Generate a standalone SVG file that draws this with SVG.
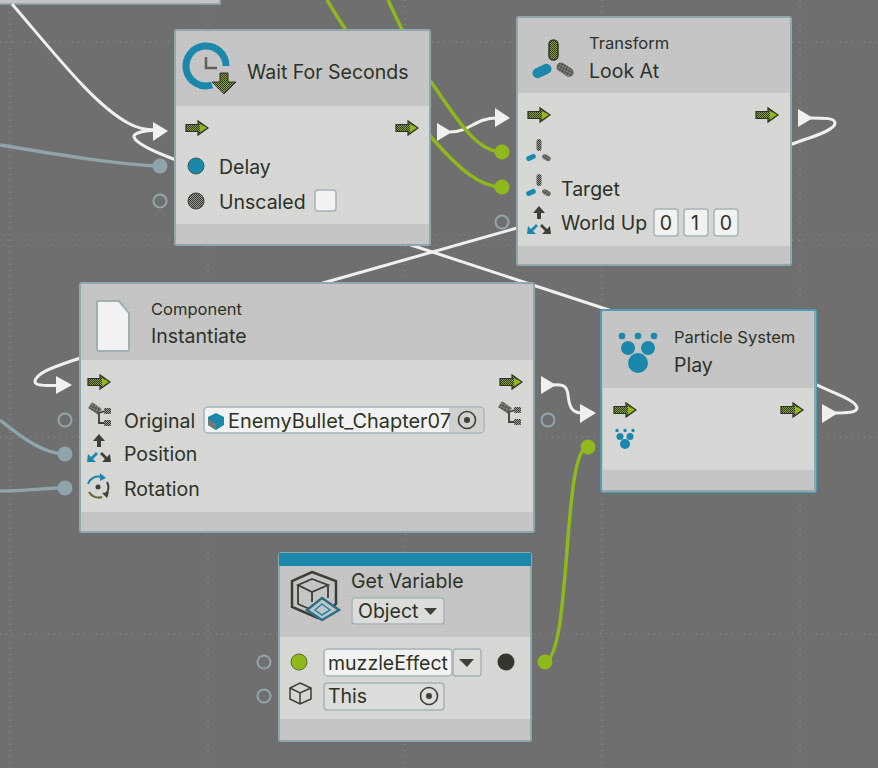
<svg xmlns="http://www.w3.org/2000/svg" xmlns:xlink="http://www.w3.org/1999/xlink" width="878" height="768" viewBox="0 0 878 768">
<style>
text{font-family:Inter,"Noto Sans",sans-serif;fill:#2c3226}
.t{font-size:19.5px}.s{font-size:16.5px}
.n{fill:#c4c4c4;stroke:#8fa7ad;stroke-width:2}
.b{fill:#d6d6d4}
.w{fill:none;stroke:#f0f0ee;stroke-width:3}
.g{fill:none;stroke:#8eb81c;stroke-width:3.5}
.u{fill:none;stroke:#8fa5ab;stroke-width:3.5}
.grid{stroke:#8c9a9b;stroke-width:1;stroke-dasharray:1 5;fill:none}
.hp{fill:none;stroke:#92a6ac;stroke-width:2}
.fp{fill:#8fa5ab}.gp{fill:#8eb81c}
.tri{fill:#f0f0ee}
.fld{fill:#f2f2f2;stroke:#a4b4b6;stroke-width:1.5}
.fldg{fill:#dcdcda;stroke:#a4b4b6;stroke-width:1.5}
.bl{fill:#1b88ab}.dk{fill:#3c4138}
</style>
<defs>
<pattern id="dots" width="4" height="4" patternUnits="userSpaceOnUse"><rect x="1" y="1" width="1" height="1" fill="#fff" opacity=".22"/></pattern>
<pattern id="chk" width="2" height="2" patternUnits="userSpaceOnUse"><rect width="2" height="2" fill="#8aa81c"/><rect width="1" height="1" fill="#2e3324"/><rect x="1" y="1" width="1" height="1" fill="#2e3324"/></pattern>
<pattern id="chk2" width="2" height="2" patternUnits="userSpaceOnUse"><rect width="2" height="2" fill="#9a9c96"/><rect width="1" height="1" fill="#33372e"/><rect x="1" y="1" width="1" height="1" fill="#33372e"/></pattern>
<g id="flow"><path d="M-11,-3.500H1V-7L11,0L1,7V3.500H-11Z" fill="url(#chk)" stroke="#2e3324" stroke-width="1.200"/><path d="M3,-4L10,0L3,4Z" fill="#94b81c"/></g>
<g id="tf3">
<rect x="-2.500" y="-14" width="5" height="12" rx="2.500" fill="url(#chk2)"/>
<rect x="-13" y="2" width="10" height="5" rx="2.500" transform="rotate(-25 -8 4.500)" class="bl"/>
<rect x="3" y="2" width="9" height="5" rx="2.500" transform="rotate(28 7 4.500)" fill="url(#chk2)"/>
</g>
<g id="axis">
<path d="M0,-16L-6,-9H-2V-3H2V-9H6Z" fill="#3c4138"/>
<path d="M-12,12L-11,4L-8,7L-3,2L-1,4L-6,9L-3,12Z" class="bl"/>
<path d="M12,12L11,4L8,7L3,2L1,4L6,9L3,12Z" fill="#3c4138"/>
</g>
<g id="tree">
<rect x="-11" y="-12" width="12" height="7" transform="rotate(35 -5 -8.500)" fill="url(#chk2)"/>
<path d="M-1,-4V6H5M-1,-4L5,-6" fill="none" stroke="#3c4138" stroke-width="1.800"/>
<rect x="4" y="-9" width="7" height="6" rx="1" fill="url(#chk2)"/><rect x="4" y="3" width="7" height="6" rx="1" fill="url(#chk2)"/>
</g>
<g id="tgt"><circle r="8.500" fill="none" stroke="#3c4138" stroke-width="1.600"/><circle r="3" fill="#3c4138"/></g>
<g id="ps">
<circle cx="-16" cy="-27" r="3.300" class="bl"/><circle cx="0" cy="-27" r="3.300" class="bl"/><circle cx="16" cy="-27" r="3.300" class="bl"/>
<circle cx="-10" cy="-15" r="7" class="bl"/><circle cx="10" cy="-15" r="7" class="bl"/><circle cy="0" r="10" class="bl"/>
</g>
</defs>
<rect width="878" height="768" fill="#6f6f6f"/>
<g id="grid" class="grid">
<path d="M0,42H878M0,240H878M0,437H878M0,634H878M10,0V768M208,0V768M405,0V768M602,0V768M800,0V768"/>
</g>
<rect id="cut-off-node" x="-4" y="-10" width="224" height="14" fill="#c4c4c4" stroke="#8fa7ad" stroke-width="1.500"/>
<g id="connectors">
<path class="w" d="M12,4C60,60 95,105 128,123C140,130 150,130 156,130C140,131 133,134 134,137C136,144 160,154 176,160"/>
<path class="w" d="M176,160L411,245L612,311"/>
<path class="w" d="M450,132C470,132 475,118 497,118"/>
<path class="w" d="M810,118C825,118 835,118 835,123C835,132 800,140 790,145L517,228L323,283L80,358C60,365 35,372 35,382C35,386 50,386 60,385"/>
<path class="w" d="M553,385C572,383 566,395 570,405C572,412 578,413 582,413"/>
<path class="w" d="M835,413C845,413 857,413 857,408C857,400 830,392 815,384"/>
<path class="g" d="M388,0C400,25 415,60 431,82C455,115 475,152 502,152"/>
<path class="g" d="M327,0C345,30 385,90 431,137C460,170 480,187 502,187"/>
<path class="g" d="M545,662C572,655 562,447 588,447"/>
<path class="u" d="M0,145C60,155 120,165 160,166"/>
<path class="u" d="M0,420C25,440 45,454 65,454"/>
<path class="u" d="M0,491C25,491 45,488 65,488"/>
<path class="tri" d="M153,122L168,131L153,141Z"/>
<path class="tri" d="M437,123L452,132L437,141Z"/>
<path class="tri" d="M495,108L510,118L495,127Z"/>
<path class="tri" d="M798,109L813,118L798,127Z"/>
<path class="tri" d="M56,376L72,385L56,394Z"/>
<path class="tri" d="M541,376L556,385L541,394Z"/>
<path class="tri" d="M580,404L596,413L580,423Z"/>
<path class="tri" d="M822,404L838,413L822,423Z"/>
<circle class="gp" cx="502" cy="152" r="7.500"/><circle class="gp" cx="502" cy="187" r="7.500"/>
<circle class="gp" cx="588" cy="447" r="7.500"/><circle class="gp" cx="545" cy="662" r="7.500"/>
<circle class="fp" cx="160" cy="166" r="7.500"/><circle class="fp" cx="65" cy="454" r="7.500"/><circle class="fp" cx="65" cy="488" r="7.500"/>
<circle class="hp" cx="160" cy="201" r="6.500"/><circle class="hp" cx="502" cy="222" r="6.500"/><circle class="hp" cx="65" cy="420" r="6.500"/>
<circle class="hp" cx="548" cy="420" r="6.500"/><circle class="hp" cx="264" cy="662" r="6.500"/><circle class="hp" cx="264" cy="696" r="6.500"/>
</g>
<g id="node-wait">
<rect class="n" x="175" y="30" width="255" height="215" rx="2"/>
<rect class="b" x="176" y="106" width="253" height="118"/>
<rect x="176" y="31" width="253" height="213" fill="url(#dots)"/>
<path d="M212,85A20,20 0 1 1 226,66" fill="none" stroke="#1b88ab" stroke-width="7"/>
<path d="M206,57V68H217" fill="none" stroke="#5f625c" stroke-width="2.500"/>
<path d="M220,73H228V82H236L224,94L212,82H220Z" fill="url(#chk)" stroke="#2e3324" stroke-width="1"/>
<text class="t" x="247" y="79">Wait For Seconds</text>
<use href="#flow" x="197" y="128"/><use href="#flow" x="407" y="128"/>
<circle cx="196" cy="166" r="8" class="bl" stroke="#3a5a66" stroke-width="1"/>
<circle cx="196" cy="201" r="8" fill="url(#chk2)" stroke="#3a3f36" stroke-width="1"/>
<text class="t" x="219" y="174">Delay</text>
<text class="t" x="219" y="209">Unscaled</text>
<rect class="fld" x="315" y="190" width="21" height="21" rx="3"/>
</g>
<g id="node-lookat">
<rect class="n" x="517" y="17" width="274" height="248" rx="2"/>
<rect class="b" x="518" y="93" width="272" height="153"/>
<rect x="518" y="18" width="272" height="246" fill="url(#dots)"/>
<rect x="549" y="40" width="9" height="20" rx="4.500" fill="url(#chk)" stroke="#2e3324" stroke-width="1.500"/>
<rect x="532" y="66" width="20" height="10" rx="5" transform="rotate(-25 542 71)" class="bl"/>
<rect x="556" y="65" width="19" height="9" rx="4.500" transform="rotate(33 565 69)" fill="url(#chk2)"/>
<text class="s" x="589" y="49">Transform</text>
<text class="t" x="589" y="78">Look At</text>
<use href="#flow" x="539" y="115"/><use href="#flow" x="767" y="115"/>
<use href="#tf3" x="539" y="153"/><use href="#tf3" x="539" y="188"/>
<use href="#axis" x="539" y="222"/>
<text class="t" x="561" y="196">Target</text>
<text class="t" x="561" y="230">World Up</text>
<rect class="fld" x="654" y="209" width="24" height="27" rx="3"/><rect class="fld" x="684" y="209" width="24" height="27" rx="3"/><rect class="fld" x="714" y="209" width="24" height="27" rx="3"/>
<text class="t" x="666" y="230" text-anchor="middle">0</text><text class="t" x="695" y="230" text-anchor="middle">1</text><text class="t" x="726" y="230" text-anchor="middle">0</text>
</g>
<g id="node-instantiate">
<rect class="n" x="80" y="283" width="454" height="249" rx="2"/>
<rect class="b" x="81" y="360" width="452" height="152"/>
<rect x="81" y="284" width="452" height="247" fill="url(#dots)"/>
<path d="M97,303Q97,301 99,301H119L129,313V349Q129,351 127,351H99Q97,351 97,349Z" fill="#f2f2f2" stroke="#9fb0b3" stroke-width="2"/>
<text class="s" x="151" y="315">Component</text>
<text class="t" x="151" y="343">Instantiate</text>
<use href="#flow" x="99" y="382"/><use href="#flow" x="511" y="382"/>
<use href="#tree" x="100" y="417"/><use href="#tree" x="510" y="416"/>
<use href="#axis" x="99" y="450"/>
<g transform="translate(98 487)"><path d="M-10,-3A11,11 0 0 1 4,-10" fill="none" stroke="#1b88ab" stroke-width="2"/><path d="M2,-14L8,-9L2,-6Z" class="bl"/><path d="M9,-5A11,11 0 0 1 8,7" fill="none" stroke="#3c4138" stroke-width="2"/><path d="M4,6L11,5L9,11Z" class="dk"/><path d="M-9,5A11,11 0 0 0 4,10" fill="none" stroke="#5c6b2a" stroke-width="2"/><circle r="2.500" class="dk"/></g>
<text class="t" x="124" y="428">Original</text>
<text class="t" x="124" y="461">Position</text>
<text class="t" x="124" y="496">Rotation</text>
<rect class="fld" x="204" y="407" width="280" height="26" rx="4"/>
<path d="M449,408H480Q483,408 483,411V429Q483,432 480,432H449Z" fill="#d0d0ce"/>
<path d="M208,417L216,413L224,417L224,425L216,430L208,425Z" class="bl"/><path d="M208,419L216,424V430L208,425Z" fill="#777"/>
<text class="t" x="228" y="428" textLength="223" lengthAdjust="spacingAndGlyphs">EnemyBullet_Chapter07</text>
<use href="#tgt" x="467" y="420"/>
</g>
<g id="node-particle">
<rect x="601" y="310" width="215" height="182" rx="2" fill="#c4c4c4" stroke="#4f9db5" stroke-width="2"/>
<rect class="b" x="603" y="388" width="211" height="82"/>
<path d="M815,311V491H602" fill="none" stroke="#8fa7ad" stroke-width="2"/>
<rect x="603" y="312" width="211" height="178" fill="url(#dots)"/>
<use href="#ps" x="638" y="363"/>
<text class="s" x="674" y="343">Particle System</text>
<text class="t" x="674" y="372">Play</text>
<use href="#flow" x="625" y="410"/><use href="#flow" x="792" y="410"/>
<use href="#ps" x="625" y="444" transform="translate(312.500 222) scale(.5)"/>
</g>
<g id="node-getvariable">
<rect class="n" x="279" y="553" width="252" height="188" rx="2"/>
<rect x="279" y="553" width="252" height="13" fill="#1b88ab"/>
<rect class="b" x="280" y="637" width="250" height="82"/>
<rect x="280" y="566" width="250" height="174" fill="url(#dots)"/>
<path d="M312,572L336,581V604L318,618L292,607V581Z" fill="none" stroke="#3a3f36" stroke-width="2.500"/>
<path d="M298,585L312,579L328,585L312,592ZM298,585V604L312,610M312,592V602M328,585V598" fill="none" stroke="#3a3f36" stroke-width="1.800"/>
<path d="M322,598L339,610L322,620L307,610Z" fill="#c4c4c4" stroke="#2d6f85" stroke-width="2.500"/>
<path d="M322,604L330,610L322,615L315,610Z" fill="none" stroke="#1b88ab" stroke-width="1.500"/>
<text class="t" x="351" y="588">Get Variable</text>
<rect class="fldg" x="352" y="598" width="92" height="26" rx="3"/>
<text class="t" x="358" y="618">Object</text>
<path d="M424,608H437L430.500,615Z" fill="#3c4138"/>
<circle cx="299" cy="662" r="8" fill="#8eb81c" stroke="#5c6b2a" stroke-width="1"/>
<rect class="fld" x="324" y="649" width="128" height="27" rx="4"/>
<rect class="fldg" x="453" y="649" width="28" height="27" rx="3"/>
<path d="M459,659H474L467,667Z" fill="#3c4138"/>
<text class="t" x="328" y="670">muzzleEffect</text>
<circle cx="506" cy="662" r="8.500" fill="#33372e"/>
<path d="M300,683L311,688V699L300,704L290,699V688ZM290,688L300,693L311,688M300,693V704" fill="none" stroke="#3a3f36" stroke-width="1.500"/>
<rect class="fldg" x="324" y="683" width="120" height="27" rx="3"/>
<text class="t" x="328" y="703">This</text>
<use href="#tgt" x="429" y="696"/>
</g>
</svg>
